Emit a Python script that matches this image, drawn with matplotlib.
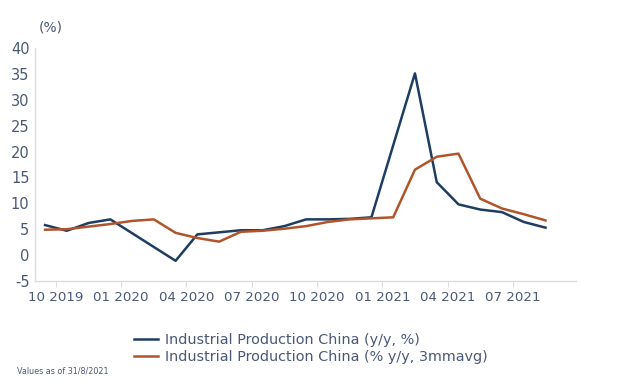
import numpy as np
import matplotlib
matplotlib.use('Agg')
import matplotlib.pyplot as plt

# Datos mensuales (sep 2019 - ago 2021); None = sin dato publicado
months = ['2019-09', '2019-10', '2019-11', '2019-12',
          '2020-01', '2020-02', '2020-03', '2020-04', '2020-05', '2020-06',
          '2020-07', '2020-08', '2020-09', '2020-10', '2020-11', '2020-12',
          '2021-01', '2021-02', '2021-03', '2021-04', '2021-05', '2021-06',
          '2021-07', '2021-08']
ip_yoy = [5.8, 4.7, 6.2, 6.9,
          None, None, -1.1, 4.0, 4.4, 4.8,
          4.8, 5.6, 6.9, 6.9, 7.0, 7.3,
          None, 35.1, 14.1, 9.8, 8.8, 8.3,
          6.4, 5.3]
ip_3mma = [4.9, 5.0, 5.5, 6.0,
           6.6, 6.9, 4.3, 3.3, 2.6, 4.5,
           4.7, 5.1, 5.6, 6.4, 6.9, 7.1,
           7.3, 16.5, 19.0, 19.6, 10.9, 9.0,
           7.9, 6.7]
tick_labels = ['10 2019', '01 2020', '04 2020', '07 2020',
               '10 2020', '01 2021', '04 2021', '07 2021']
y_ticks = [-5, 0, 5, 10, 15, 20, 25, 30, 35, 40]

BLUE = '#1d3d63'
ORANGE = '#b0552b'
TXT = '#4a5878'
GRID = '#dcdcdc'


def main():
    x = np.arange(len(months))
    a = np.array([np.nan if v is None else v for v in ip_yoy], dtype=float)
    b = np.array(ip_3mma, dtype=float)

    fig = plt.figure(figsize=(6.2, 3.81), dpi=100)
    ax = fig.add_axes([0.0565, 0.2625, 0.8725, 0.6115])

    ok = ~np.isnan(a)
    l1, = ax.plot(x[ok], a[ok], color=BLUE, lw=1.8,
                  label='Industrial Production China (y/y, %)')
    l2, = ax.plot(x, b, color=ORANGE, lw=1.8,
                  label='Industrial Production China (% y/y, 3mmavg)')

    ax.set_xlim(-0.46, 24.4)
    ax.set_ylim(-5, 40)
    ax.set_yticks(y_ticks)
    ax.set_yticklabels([str(v) for v in y_ticks])
    # ticks entre meses: "10 2019" entre sep y oct, etc.
    tick_pos = [0.5 + 3 * i for i in range(len(tick_labels))]
    ax.set_xticks(tick_pos)
    ax.set_xticklabels(tick_labels)

    for s in ['top', 'right']:
        ax.spines[s].set_visible(False)
    for s in ['left', 'bottom']:
        ax.spines[s].set_color(GRID)
        ax.spines[s].set_linewidth(1.0)
    ax.tick_params(axis='y', length=0, pad=4, labelsize=10.5, labelcolor=TXT)
    ax.tick_params(axis='x', length=4, color=GRID, pad=3, labelsize=9.6,
                   labelcolor=TXT)

    fig.text(0.063, 0.927, '(%)', color=TXT, fontsize=10, ha='left', va='center')

    fig.legend(handles=[l1, l2], loc='upper left',
               bbox_to_anchor=(0.216, 0.127), frameon=False, fontsize=10.4,
               handlelength=1.7, handletextpad=0.45, labelspacing=0.22,
               borderpad=0, borderaxespad=0, labelcolor=TXT)

    fig.text(0.027, 0.026, 'Values as of 31/8/2021', color=TXT, fontsize=5.8,
             ha='left', va='center')

    fig.savefig('out.png', dpi=100)


if __name__ == "__main__":
    main()
